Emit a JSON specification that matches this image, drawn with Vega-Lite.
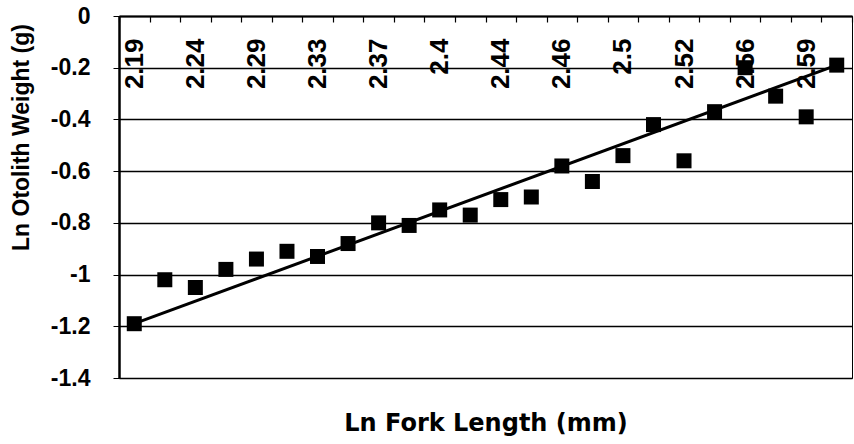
{
  "$schema": "https://vega.github.io/schema/vega-lite/v6.json",
  "autosize": {"type": "none"},
  "width": 733,
  "height": 362,
  "padding": {"left": 119, "top": 16, "right": 2, "bottom": 66},
  "background": "#ffffff",
  "config": {
    "font": "Liberation Sans",
    "view": {"stroke": "#000000", "strokeWidth": 1}
  },
  "datasets": {
    "otolith": [
      {"fl": "2.19", "w": -1.19},
      {"fl": "2.21", "w": -1.02},
      {"fl": "2.24", "w": -1.05},
      {"fl": "2.26", "w": -0.98},
      {"fl": "2.29", "w": -0.94},
      {"fl": "2.31", "w": -0.91},
      {"fl": "2.33", "w": -0.93},
      {"fl": "2.35", "w": -0.88},
      {"fl": "2.37", "w": -0.80},
      {"fl": "2.38", "w": -0.81},
      {"fl": "2.4", "w": -0.75},
      {"fl": "2.42", "w": -0.77},
      {"fl": "2.44", "w": -0.71},
      {"fl": "2.45", "w": -0.70},
      {"fl": "2.46", "w": -0.58},
      {"fl": "2.48", "w": -0.64},
      {"fl": "2.5", "w": -0.54},
      {"fl": "2.51", "w": -0.42},
      {"fl": "2.52", "w": -0.56},
      {"fl": "2.54", "w": -0.37},
      {"fl": "2.56", "w": -0.20},
      {"fl": "2.57", "w": -0.31},
      {"fl": "2.59", "w": -0.39},
      {"fl": "2.61", "w": -0.19}
    ],
    "trend": [
      {"fl": "2.19", "w": -1.19},
      {"fl": "2.61", "w": -0.19}
    ]
  },
  "encoding": {
    "x": {
      "field": "fl",
      "type": "ordinal",
      "sort": null,
      "scale": {
        "type": "band",
        "paddingInner": 0,
        "paddingOuter": 0,
        "domain": ["2.19", "2.21", "2.24", "2.26", "2.29", "2.31", "2.33", "2.35", "2.37", "2.38", "2.4", "2.42", "2.44", "2.45", "2.46", "2.48", "2.5", "2.51", "2.52", "2.54", "2.56", "2.57", "2.59", "2.61"]
      },
      "axis": {
        "orient": "top",
        "title": "Ln Fork Length (mm)",
        "titleFont": "DejaVu Sans",
        "titleFontSize": 24,
        "titleFontWeight": "bold",
        "titleColor": "#000000",
        "titleY": 414,
        "titleBaseline": "alphabetic",
        "domainColor": "#000000",
        "domainWidth": 2,
        "tickColor": "#000000",
        "tickWidth": 1.2,
        "tickSize": -6,
        "tickBand": "extent",
        "labelAngle": 270,
        "labelAlign": "right",
        "labelBaseline": "middle",
        "labelPadding": -16,
        "labelFontSize": 26,
        "labelFontWeight": "bold",
        "labelColor": "#000000",
        "labelOverlap": false,
        "labelBound": false,
        "labelExpr": "round(datum.index * 23) % 2 == 0 ? datum.label : ''",
        "grid": false
      }
    },
    "y": {
      "field": "w",
      "type": "quantitative",
      "scale": {"domain": [-1.4, 0], "nice": false, "zero": false},
      "axis": {
        "title": "Ln Otolith Weight (g)",
        "titleFontSize": 23,
        "titleFontWeight": "bold",
        "titleColor": "#000000",
        "titleX": -98,
        "titleY": 121,
        "titleAngle": 270,
        "titleAlign": "center",
        "titleBaseline": "middle",
        "values": [0, -0.2, -0.4, -0.6, -0.8, -1, -1.2, -1.4],
        "labelExpr": "'' + datum.value",
        "labelFontSize": 23,
        "labelFontWeight": "bold",
        "labelColor": "#000000",
        "labelPadding": 23,
        "tickSize": 6,
        "tickColor": "#000000",
        "domainColor": "#000000",
        "domainWidth": 2.5,
        "grid": true,
        "gridColor": "#000000",
        "gridWidth": 1.5,
        "gridOpacity": 1
      }
    }
  },
  "layer": [
    {
      "data": {"name": "trend"},
      "mark": {"type": "line", "color": "#000000", "strokeWidth": 3}
    },
    {
      "data": {"name": "otolith"},
      "mark": {"type": "point", "shape": "square", "filled": true, "color": "#000000", "opacity": 1, "size": 225}
    }
  ]
}
